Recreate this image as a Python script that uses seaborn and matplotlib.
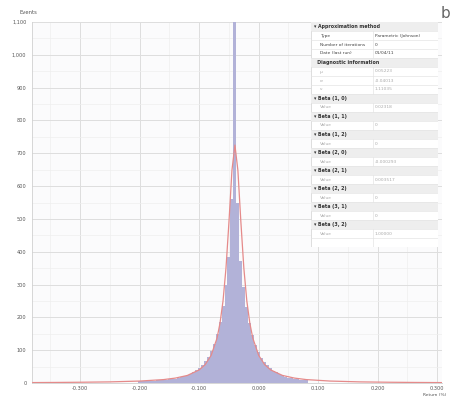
import numpy as np
import pandas as pd
import matplotlib
matplotlib.use("Agg")
import matplotlib.pyplot as plt
import seaborn as sns

# ---------------- data ----------------
bin_width = 0.005
bin_first_center = -0.200
hist_counts = [
    5, 5, 6, 6, 7, 7, 8, 8, 9, 10, 11, 12, 13, 15, 17, 20,
    24, 28, 33, 39, 46, 55, 66, 79, 96, 118, 148, 186, 236, 298, 385, 560,
    1100,
    548, 372, 292, 231, 183, 146, 115, 94, 77, 64, 54, 45, 38, 32, 27, 23,
    19, 16, 14, 12, 11, 10, 9, 8,
]

fit_x = [-0.38, -0.34, -0.30, -0.25, -0.20, -0.16, -0.14, -0.12, -0.10, -0.09,
         -0.08, -0.07, -0.065, -0.06, -0.055, -0.05, -0.045, -0.04,
         -0.035, -0.03, -0.025, -0.02, -0.015, -0.01, 0.0, 0.01, 0.02, 0.04,
         0.06, 0.08, 0.12, 0.17, 0.22, 0.26, 0.31]
fit_y = [1.3, 1.7, 2.3, 3.4, 5.9, 10.4, 15, 23, 40, 56,
         84, 137, 183, 250, 350, 491, 648, 725,
         648, 491, 350, 250, 183, 137, 84, 56, 40, 23,
         15, 10.4, 5.9, 3.4, 2.3, 1.7, 1.2]

x_ticks = [-0.3, -0.2, -0.1, 0.0, 0.1, 0.2, 0.3]
x_tick_labels = ["-0.300", "-0.200", "-0.100", "0.000", "0.100", "0.200", "0.300"]
y_ticks = [0, 100, 200, 300, 400, 500, 600, 700, 800, 900, 1000, 1100]
y_tick_labels = ["0", "100", "200", "300", "400", "500", "600", "700", "800",
                 "900", "1,000", "1,100"]

table_rows = [
    ("header", "Approximation method", ""),
    ("row", "Type", "Parametric (Johnson)"),
    ("row", "Number of iterations", "0"),
    ("row", "Date (last run)", "01/04/11"),
    ("header2", "Diagnostic information", ""),
    ("faint", "μ", "0.05223"),
    ("faint", "σ", "-0.04013"),
    ("faint", "ν", "1.11035"),
    ("header", "Beta (1, 0)", ""),
    ("faint", "Value", "0.02318"),
    ("header", "Beta (1, 1)", ""),
    ("faint", "Value", "0"),
    ("header", "Beta (1, 2)", ""),
    ("faint", "Value", "0"),
    ("header", "Beta (2, 0)", ""),
    ("faint", "Value", "-0.000293"),
    ("header", "Beta (2, 1)", ""),
    ("faint", "Value", "0.003517"),
    ("header", "Beta (2, 2)", ""),
    ("faint", "Value", "0"),
    ("header", "Beta (3, 1)", ""),
    ("faint", "Value", "0"),
    ("header", "Beta (3, 2)", ""),
    ("faint", "Value", "1.00000"),
    ("faint", "", ""),
]

# ---------------- figure ----------------
sns.set_theme(style="white")
plt.rcParams["font.family"] = ["DejaVu Sans"]

W, H = 460, 397
fig = plt.figure(figsize=(W / 100, H / 100), dpi=100)
fig.patch.set_facecolor("white")

def px_axes(x0, y0, x1, y1):
    return [x0 / W, 1 - y1 / H, (x1 - x0) / W, (y1 - y0) / H]

ax = fig.add_axes(px_axes(32, 22, 442, 383))
ax.set_facecolor("#fbfbfc")

centers = bin_first_center + bin_width * np.arange(len(hist_counts))
df = pd.DataFrame({"x": centers, "count": hist_counts})
sns.histplot(data=df, x="x", weights="count",
             binwidth=bin_width,
             binrange=(bin_first_center - bin_width / 2,
                       bin_first_center + bin_width * (len(hist_counts) - 0.5)),
             color="#b2b2d8", alpha=1.0, linewidth=0, ax=ax, zorder=2)

fit_df = pd.DataFrame({"x": fit_x, "y": fit_y})
sns.lineplot(data=fit_df, x="x", y="y", color="#e58a8a", linewidth=0.9,
             ax=ax, zorder=3, sort=False)

ax.set_xlim(-0.381, 0.308)
ax.set_ylim(0, 1100)
ax.set_xticks(x_ticks)
ax.set_xticklabels(x_tick_labels)
ax.set_yticks(y_ticks)
ax.set_yticklabels(y_tick_labels)
ax.set_yticks([v + 50 for v in y_ticks[:-1]], minor=True)
ax.set_xticks([v + 0.05 for v in x_ticks[:-1]] + [-0.35], minor=True)
ax.grid(True, which="major", color="#dedede", linewidth=0.7, zorder=0)
ax.grid(True, which="minor", color="#efefef", linewidth=0.5, zorder=0)
ax.set_axisbelow(True)
ax.tick_params(axis="both", which="both", labelsize=3.6, colors="#555555",
               length=0)
ax.tick_params(axis="x", pad=2.5)
ax.tick_params(axis="y", pad=4)
ax.set_xlabel("")
ax.set_ylabel("")
for s in ["top", "right"]:
    ax.spines[s].set_visible(False)
ax.spines["left"].set_color("#d0d0d0")
ax.spines["bottom"].set_color("#d0d0d0")
ax.spines["left"].set_linewidth(0.6)
ax.spines["bottom"].set_linewidth(0.6)

fig.text(20 / W, 1 - 12 / H, "Events", fontsize=3.8, color="#555555",
         va="center", ha="left")
fig.text(446 / W, 1 - 396.5 / H, "Return (%)", fontsize=3.2, color="#555555",
         va="bottom", ha="right")
fig.text(441 / W, 1 - 14 / H, "b", fontsize=11, color="#666666",
         va="center", ha="left")

# ---------------- info panel ----------------
tx0, tx1, ty0 = 311, 438, 22
row_h = 9.0
ty1 = ty0 + row_h * len(table_rows)
tab = fig.add_axes(px_axes(tx0, ty0, tx1, ty1))
tab.set_xlim(0, tx1 - tx0)
tab.set_ylim(ty1 - ty0, 0)
tab.axis("off")
tab.add_patch(plt.Rectangle((0, 0), tx1 - tx0, ty1 - ty0, facecolor="white",
                            edgecolor="#d8d8d8", linewidth=0.6, zorder=0))
col = 62
for i, (kind, left, right) in enumerate(table_rows):
    y = i * row_h
    if kind in ("header", "header2"):
        tab.add_patch(plt.Rectangle((0, y), tx1 - tx0, row_h,
                                    facecolor="#eeeeee", edgecolor="none",
                                    zorder=1))
        prefix = "▾ " if kind == "header" else "  "
        tab.text(3, y + row_h / 2, prefix + left, fontsize=3.4,
                 fontweight="bold", color="#333333", va="center", ha="left",
                 zorder=3)
    else:
        c = "#444444" if kind == "row" else "#aaaaaa"
        tab.text(9, y + row_h / 2, left, fontsize=3.2, color=c,
                 va="center", ha="left", zorder=3)
        tab.text(col + 2, y + row_h / 2, right, fontsize=3.2, color=c,
                 va="center", ha="left", zorder=3)
        tab.plot([col, col], [y, y + row_h], color="#e4e4e4", linewidth=0.5,
                 zorder=2)
    tab.plot([0, tx1 - tx0], [y + row_h, y + row_h], color="#e4e4e4",
             linewidth=0.5, zorder=2)

fig.savefig("out.png", dpi=100, facecolor="white")
